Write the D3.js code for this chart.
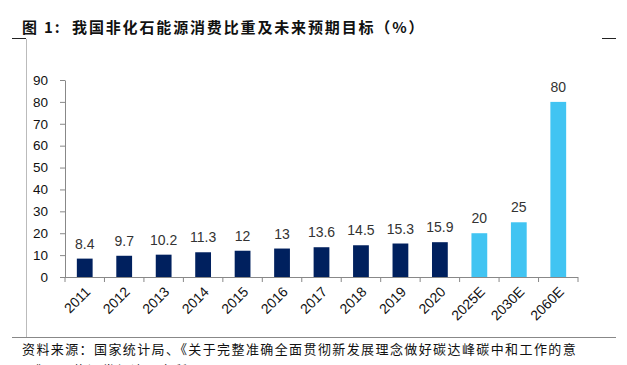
<!DOCTYPE html>
<html>
<head>
<meta charset="utf-8">
<script src="https://cdn.jsdelivr.net/npm/d3@7"></script>
<style>
  body { margin: 0; background: #fff; }
  svg { display: block; }
</style>
</head>
<body>
<script>
// chart data
var years = ["2011","2012","2013","2014","2015","2016","2017","2018","2019","2020","2025E","2030E","2060E"]
var shares = [8.4, 9.7, 10.2, 11.3, 12, 13, 13.6, 14.5, 15.3, 15.9, 20, 25, 80]
var isTarget = [false,false,false,false,false,false,false,false,false,false,true,true,true]
var yTicks = [0,10,20,30,40,50,60,70,80,90]

var titleText = "图 1:  我国非化石能源消费比重及未来预期目标（%）"
var sourceLine1 = "资料来源：国家统计局、《关于完整准确全面贯彻新发展理念做好碳达峰碳中和工作的意"
var sourceLine2 = "见》、国信证券经济研究所"

const drawChart = function() {
    var width = 627, height = 365
    // plot area
    var pad = { left: 65, right: 578, top: 80, bottom: 277 }

    var svg = d3.select("body").append("svg")
                .attr("width", width)
                .attr("height", height)

    // frame lines of the report page
    svg.append("line").attr("x1", 12).attr("x2", 26).attr("y1", 38.5).attr("y2", 38.5)
       .attr("stroke", "#222").attr("stroke-width", 1)
    svg.append("line").attr("x1", 602).attr("x2", 616).attr("y1", 38.5).attr("y2", 38.5)
       .attr("stroke", "#222").attr("stroke-width", 1)
    svg.append("line").attr("x1", 26.5).attr("x2", 26.5).attr("y1", 39).attr("y2", 337)
       .attr("stroke", "#bbb").attr("stroke-width", 1)
    svg.append("line").attr("x1", 12).attr("x2", 616).attr("y1", 337.5).attr("y2", 337.5)
       .attr("stroke", "#888").attr("stroke-width", 1.2)

    svg.append("text")
       .attr("x", 22).attr("y", 33)
       .attr("font-family", "'Noto Sans CJK SC', sans-serif")
       .attr("font-weight", "bold")
       .attr("font-size", 15)
       .attr("letter-spacing", 1.85)
       .attr("fill", "#111")
       .style("white-space", "pre")
       .text(titleText)

    svg.append("text")
       .attr("x", 22).attr("y", 354)
       .attr("font-family", "'Noto Sans CJK SC', sans-serif")
       .attr("font-size", 13)
       .attr("letter-spacing", 1.4)
       .attr("fill", "#111")
       .text(sourceLine1)
    svg.append("text")
       .attr("x", 22).attr("y", 375)
       .attr("font-family", "'Noto Sans CJK SC', sans-serif")
       .attr("font-size", 13)
       .attr("letter-spacing", 1.4)
       .attr("fill", "#111")
       .text(sourceLine2)

    var x = d3.scaleBand().domain(years).range([pad.left, pad.right]).paddingInner(0.6).paddingOuter(0.3)
    var y = d3.scaleLinear().domain([0, 90]).range([pad.bottom, pad.top])

    // y axis
    var yAxis = svg.append("g")
       .attr("transform", "translate(" + pad.left + ",0)")
       .call(d3.axisLeft(y).tickValues(yTicks).tickSize(5).tickPadding(12).tickSizeOuter(0))
    yAxis.select(".domain").attr("stroke", "#888")
    yAxis.selectAll(".tick line").attr("stroke", "#888")
    yAxis.selectAll("text")
         .attr("font-family", "'Liberation Sans', Arial, sans-serif")
         .attr("font-size", 13.5).attr("fill", "#111")

    // x axis: ticks sit between categories
    var xAxis = svg.append("g").attr("transform", "translate(0," + pad.bottom + ")")
    xAxis.append("line").attr("x1", pad.left).attr("x2", pad.right).attr("y1", 0.5).attr("y2", 0.5)
         .attr("stroke", "#888")
    var step = x.step()
    var edges = d3.range(years.length + 1).map(function(i){ return pad.left + i * step })
    xAxis.selectAll(".xt").data(edges).enter().append("line")
         .attr("x1", function(d){ return d }).attr("x2", function(d){ return d })
         .attr("y1", 0).attr("y2", 5).attr("stroke", "#888")
    xAxis.selectAll(".xl").data(years).enter().append("text")
         .attr("transform", function(d){
             return "translate(" + (x(d) + x.bandwidth() / 2 + 4) + ",13) rotate(-45)"
         })
         .attr("text-anchor", "end")
         .attr("dominant-baseline", "middle")
         .attr("font-family", "'Liberation Sans', Arial, sans-serif")
         .attr("font-size", 14).attr("fill", "#111")
         .text(function(d){ return d })

    // bars
    var rows = years.map(function(d, i){ return {year: d, v: shares[i], target: isTarget[i]} })
    svg.selectAll(".bar").data(rows).enter().append("rect")
       .attr("x", function(d){ return x(d.year) })
       .attr("width", x.bandwidth())
       .attr("y", function(d){ return y(d.v) })
       .attr("height", function(d){ return pad.bottom - y(d.v) })
       .attr("fill", function(d){ return d.target ? "#41C4F2" : "#00205E" })

    svg.selectAll(".val").data(rows).enter().append("text")
       .attr("x", function(d){ return x(d.year) + x.bandwidth() / 2 })
       .attr("y", function(d){ return y(d.v) - 10 })
       .attr("text-anchor", "middle")
       .attr("font-family", "'Liberation Sans', Arial, sans-serif")
       .attr("font-size", 14).attr("fill", "#333")
       .text(function(d){ return d.v })
}

drawChart()
</script>
</body>
</html>
